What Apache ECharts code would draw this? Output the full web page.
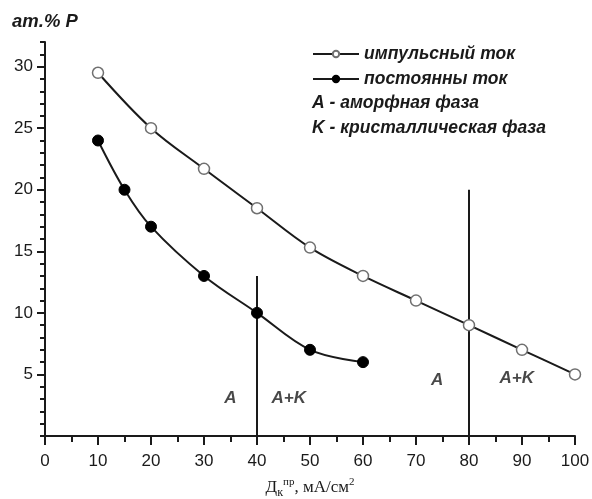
<!DOCTYPE html>
<html>
<head>
<meta charset="utf-8">
<script src="https://cdn.jsdelivr.net/npm/echarts@6/dist/echarts.min.js"></script>
<style>
html,body{margin:0;padding:0;background:#fff;}
#chart{width:592px;height:499px;}
</style>
</head>
<body>
<div id="chart"></div>
<script>
// Data
var impulseX = [10, 20, 30, 40, 50, 60, 70, 80, 90, 100];
var impulseY = [29.5, 25, 21.7, 18.5, 15.3, 13, 11, 9, 7, 5];
var constX = [10, 15, 20, 30, 40, 50, 60];
var constY = [24, 20, 17, 13, 10, 7, 6];
var boundaryX = [40, 80];
var boundaryTop = [13, 20];
var regionX = [35, 46, 74, 89];
var regionY = [3.1, 3.1, 4.5, 4.7];
var regionText = ['A', 'A+K', 'A', 'A+K'];
var yTicks = [5, 10, 15, 20, 25, 30];
var seriesNames = ['импульсный ток', 'постоянны ток'];
var noteLines = ['A - аморфная фаза', 'K - кристаллическая фаза'];

function pairs(xs, ys) { return xs.map(function (x, i) { return [x, ys[i]]; }); }

var INK = '#1a1a1a';
var SANS = 'Liberation Sans, Arial, sans-serif';
var SERIF = 'Liberation Serif, Times New Roman, serif';
var chart = echarts.init(document.getElementById('chart'), null, {renderer: 'canvas'});

var series = [
  {
    name: seriesNames[0], type: 'line', xAxisIndex: 0, yAxisIndex: 0,
    data: pairs(impulseX, impulseY), smooth: 0.35,
    symbol: 'circle', symbolSize: 11,
    itemStyle: {color: '#ffffff', borderColor: '#707070', borderWidth: 1.5},
    lineStyle: {color: INK, width: 2}, z: 3
  },
  {
    name: seriesNames[1], type: 'line', xAxisIndex: 0, yAxisIndex: 0,
    data: pairs(constX, constY), smooth: 0.35,
    symbol: 'circle', symbolSize: 11,
    itemStyle: {color: '#000000', borderColor: '#000000', borderWidth: 1},
    lineStyle: {color: INK, width: 2}, z: 3
  }
];
boundaryX.forEach(function (bx, i) {
  series.push({
    type: 'line', xAxisIndex: 0, yAxisIndex: 0, silent: true,
    data: [[bx, 0], [bx, boundaryTop[i]]], symbol: 'none',
    lineStyle: {color: INK, width: 2}, z: 2
  });
});
series.push({
  type: 'scatter', xAxisIndex: 0, yAxisIndex: 0, silent: true,
  data: regionX.map(function (x, i) { return {value: [x, regionY[i]], name: regionText[i]}; }),
  symbolSize: 0,
  label: {show: true, position: 'inside', formatter: '{b}', fontFamily: SANS,
    fontStyle: 'italic', fontWeight: 'bold', fontSize: 17, color: INK}
});

var option = {
  animation: false,
  backgroundColor: '#ffffff',
  grid: {left: 45, right: 17, top: 42, bottom: 63, containLabel: false, outerBoundsMode: 'none'},
  legend: {
    data: seriesNames, orient: 'vertical', left: 307, top: 40,
    itemWidth: 46, itemHeight: 8, itemGap: 7,
    textStyle: {fontFamily: SANS, fontStyle: 'italic', fontWeight: 'bold', fontSize: 17.5, color: INK}
  },
  graphic: [
    {type: 'text', left: 312, top: 94, style: {text: noteLines[0], fontFamily: SANS,
      fontStyle: 'italic', fontWeight: 'bold', fontSize: 17.5, fill: INK}},
    {type: 'text', left: 312, top: 119, style: {text: noteLines[1], fontFamily: SANS,
      fontStyle: 'italic', fontWeight: 'bold', fontSize: 17.5, fill: INK}},
    {type: 'text', left: 12, top: 12, style: {text: 'am.% P', fontFamily: SANS,
      fontStyle: 'italic', fontWeight: 'bold', fontSize: 18.5, fill: INK}}
  ],
  xAxis: [{
    type: 'value', min: 0, max: 100, interval: 10,
    axisLine: {show: true, onZero: false, lineStyle: {color: INK, width: 2}},
    axisTick: {show: true, length: 9, lineStyle: {color: INK, width: 2}},
    minorTick: {show: true, splitNumber: 2, length: 6, lineStyle: {color: INK, width: 2}},
    splitLine: {show: false},
    axisLabel: {margin: 17, fontFamily: SANS, fontSize: 17, color: INK},
    name: '{b|Д}{s|к}{p|пр}{b|, мА/см}{q|2}',
    nameLocation: 'middle', nameGap: 41,
    nameTextStyle: {
      rich: {
        b: {fontFamily: SERIF, fontSize: 17, color: INK, lineHeight: 22, verticalAlign: 'middle'},
        s: {fontFamily: SERIF, fontSize: 12, color: INK, lineHeight: 22, verticalAlign: 'bottom', padding: [6, 0, 0, 0]},
        p: {fontFamily: SERIF, fontSize: 11, color: INK, lineHeight: 22, verticalAlign: 'top', padding: [0, 0, 8, 0]},
        q: {fontFamily: SERIF, fontSize: 11, color: INK, lineHeight: 22, verticalAlign: 'top', padding: [0, 0, 8, 0]}
      }
    }
  }],
  yAxis: [{
    type: 'value', min: 0, max: 32, position: 'left',
    axisLine: {show: true, onZero: false, lineStyle: {color: INK, width: 2}},
    axisTick: {show: true, length: 8, customValues: yTicks, lineStyle: {color: INK, width: 2}},
    splitLine: {show: false},
    axisLabel: {customValues: yTicks, margin: 12, fontFamily: SANS, fontSize: 17, color: INK}
  }, {
    type: 'value', min: 0, max: 32, interval: 1, position: 'left', offset: 0,
    axisLine: {show: false},
    axisTick: {show: true, length: 5, lineStyle: {color: INK, width: 2}},
    splitLine: {show: false},
    axisLabel: {show: false}
  }],
  series: series
};
chart.setOption(option);
</script>
</body>
</html>
